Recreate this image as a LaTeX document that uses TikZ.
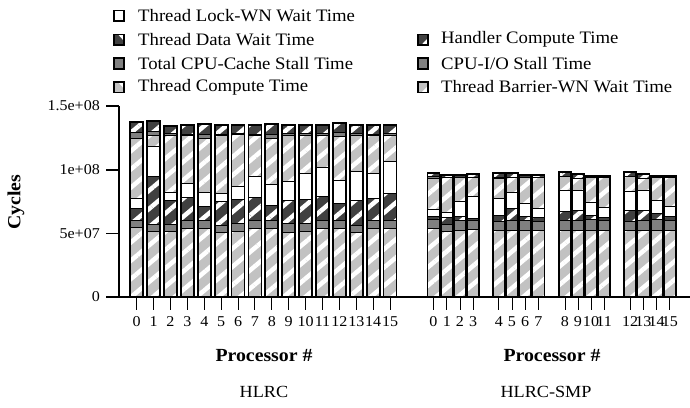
\documentclass[tikz,border=0pt]{standalone}
\usepackage{fontspec}
\setmainfont{Liberation Serif}[FakeStretch=1.07]
\usetikzlibrary{patterns.meta}
\definecolor{dk}{gray}{0.25}
\definecolor{md}{gray}{0.5}
\definecolor{lt}{gray}{0.76}
\tikzset{
  wstripe/.style={pattern={Lines[angle=40,distance=14pt,line width=4.5pt]},pattern color=white},
  segline/.style={line width=0.9pt},
  barout/.style={line width=1.8pt},
  axisline/.style={line width=1.3pt},
  tickline/.style={line width=1pt},
  ticklab/.style={font=\fontsize{15}{17}\selectfont, inner sep=0pt},
  legtext/.style={font=\fontsize{17.5}{20}\selectfont, anchor=west, inner sep=0pt},
  boldlab/.style={font=\fontsize{18.5}{21}\selectfont\bfseries, inner sep=0pt},
  grplab/.style={font=\fontsize{17}{20}\selectfont, inner sep=0pt},
  legbox/.style={line width=1.6pt},
}
\newcommand{\drawonebar}[9]{%
  \pgfmathsetmacro{\xl}{#1-#2/2}\pgfmathsetmacro{\xr}{#1+#2/2}%
  \fill[dk] (\xl,#3) rectangle (\xr,#4);
  \fill[md] (\xl,#4) rectangle (\xr,#5);
  \fill[lt] (\xl,#5) rectangle (\xr,#6);
  \fill[white] (\xl,#6) rectangle (\xr,#7);
  \fill[dk] (\xl,#7) rectangle (\xr,#8);
  \fill[md] (\xl,#8) rectangle (\xr,#9);
  \fill[lt] (\xl,#9) rectangle (\xr,297);
  \fill[wstripe] (\xl,#3) rectangle (\xr,#4);
  \fill[wstripe] (\xl,#5) rectangle (\xr,#6);
  \fill[wstripe] (\xl,#7) rectangle (\xr,#8);
  \fill[wstripe] (\xl,#9) rectangle (\xr,297);
  \draw[segline] (\xl,#4) -- (\xr,#4) (\xl,#5) -- (\xr,#5) (\xl,#6) -- (\xr,#6)
     (\xl,#7) -- (\xr,#7) (\xl,#8) -- (\xr,#8) (\xl,#9) -- (\xr,#9);
  \draw[barout] (\xl,#3) rectangle (\xr,297);
}
\begin{document}
\begin{tikzpicture}[x=1pt,y=-1pt]
\useasboundingbox (0,0) rectangle (690,407);

% ---- bars, HLRC
\foreach \x/\w/\a/\b/\c/\d/\e/\f/\g in {
 136.7/13/121.7/132.7/138.3/198.3/208.3/220/227.3,
 153.6/13/120.7/131.5/135/146.7/176.7/224.3/231,
 170.5/13/125.7/133.3/135/192.7/200.7/224/231.7,
 187.4/13/125.3/134/135/183.3/197.3/220/228.3,
 204.3/13/124/134/138.3/192.7/206.7/220/228.3,
 221.2/13/125.3/134/135/193.3/201.7/225/232.7,
 238.0/13/124.7/133.3/134.5/186.7/199.3/223.3/231.7,
 254.9/13/124.7/134/135/176.7/197.3/220/228.3,
 271.8/13/124/134/138.3/184/205/220/228.3,
 288.7/13/125.3/133.3/135/181.7/200.7/223.3/232.7,
 305.6/13/125/133.3/135/173.3/199.3/223.3/231.7,
 322.5/13/125/133.3/135/167.3/196.7/220/228.3,
 339.4/13/123.3/132.7/136/180.7/203.3/220/228.3,
 356.3/13/125/133.3/135/171.7/200/225/232.7,
 373.2/13/125/134/135/173.3/198.3/220/228.3,
 390.0/13/125/133.3/135/161.7/193.3/220/228.3}
 {\drawonebar{\x}{\w}{\a}{\b}{\c}{\d}{\e}{\f}{\g}}

% ---- bars, HLRC-SMP
\foreach \x/\w/\a/\b/\c/\d/\e/\f/\g in {
 433.5/12/173.3/176.7/178.3/209.3/216/219.3/228.3,
 446.8/12/175/177.3/177.8/212.7/217.3/224/231.7,
 460/12/175/177.3/177.8/201.7/216.7/220/230,
 473.2/12/174.3/177.3/177.8/196/218.3/220.7/229.3,
 498.8/12/172.7/177.3/178.3/198.3/215/221.7/230.7,
 512/12/173.3/177.3/177.8/192.7/208.3/220/230,
 525.2/12/175/177.3/177.8/203.3/216/220/230,
 538.4/12/175/177/177.5/208.3/217.3/221.7/230.7,
 565/12/171.7/176/176.5/190/211.7/220/230,
 578/12/174.3/178.3/178.8/190/210/220/230,
 591/12/176/177.3/177.8/202.7/215/219.3/230,
 604.2/12/176/177.3/177.8/207.3/217.3/220.7/230,
 630.2/12/171.7/176/176.5/191.7/210/221.7/230.7,
 643.4/12/174.3/178.3/178.8/190.7/210/220/230,
 656.6/12/176/177.3/177.8/200.7/213.3/219.3/230,
 669.8/12/176/177.3/177.8/206.7/216.7/220.7/230}
 {\drawonebar{\x}{\w}{\a}{\b}{\c}{\d}{\e}{\f}{\g}}

% ---- axes
\draw[axisline] (106,297) -- (690,297);
\draw[axisline] (119,106) -- (119,297);
\foreach \v/\t [count=\i] in {106/1.5e+08,170/1e+08,233.5/5e+07,297/0}{
  \draw[axisline] (106,\v) -- (119,\v);
  \node[ticklab, anchor=east] (yl\i) at (100,\v) {\t};
}
\foreach \k in {0,...,15}{
  \pgfmathsetmacro{\tx}{136.7+16.89*\k}
  \draw[tickline] (\tx,297) -- (\tx,310);
  \node[ticklab] (xa\k) at (\tx,321.5) {\k};
}
\foreach \tx [count=\i from 0] in {433.5,446.8,460,473.2,498.8,512,525.2,538.4,565,578,591,604.2,630.2,643.4,656.6,669.8}{
  \draw[tickline] (\tx,297) -- (\tx,310);
  \node[ticklab] (xb\i) at (\tx,321.5) {\i};
}

\node[boldlab, rotate=90] (ylab) at (16,202) {Cycles};
\node[boldlab] (pa) at (264,356) {Processor \#};
\node[boldlab] (pb) at (552,356) {Processor \#};
\node[grplab] (ga) at (264,392) {HLRC};
\node[grplab] (gb) at (546,392) {HLRC-SMP};

% ---- legend
\draw[legbox, fill=white] (114,10.5) rectangle (124,21);
\node[legtext] (l1) at (138,15.5) {Thread Lock-WN Wait Time};
\fill[dk] (114,34.3) rectangle (124,44.8);
\fill[white] (118,34.3) -- (124,34.3) -- (124,41) -- cycle;
\draw[legbox] (114,34.3) rectangle (124,44.8);
\node[legtext] (l2) at (138,39.3) {Thread Data Wait Time};
\fill[dk] (418,34.3) rectangle (428,44.8);
\fill[white] (428,38) -- (428,44.8) -- (421.5,44.8) -- cycle;
\draw[legbox] (418,34.3) rectangle (428,44.8);
\node[legtext] (l3) at (441,39.3) {Handler Compute Time};
\draw[legbox, fill=md] (114,58.2) rectangle (124,68.7);
\node[legtext] (l4) at (138,63.2) {Total CPU-Cache Stall Time};
\draw[legbox, fill=md] (418,58.2) rectangle (428,68.7);
\node[legtext] (l5) at (441,63.2) {CPU-I/O Stall Time};
\fill[lt] (114,82) rectangle (124,92.5);
\fill[white] (118,82) -- (124,82) -- (124,88.7) -- cycle;
\draw[legbox] (114,82) rectangle (124,92.5);
\node[legtext] (l6) at (138,87) {Thread Compute Time};
\fill[lt] (418,82) rectangle (428,92.5);
\fill[white] (428,85.7) -- (428,92.5) -- (421.5,92.5) -- cycle;
\draw[legbox] (418,82) rectangle (428,92.5);
\node[legtext] (l7) at (441,87) {Thread Barrier-WN Wait Time};
\end{tikzpicture}
\end{document}
